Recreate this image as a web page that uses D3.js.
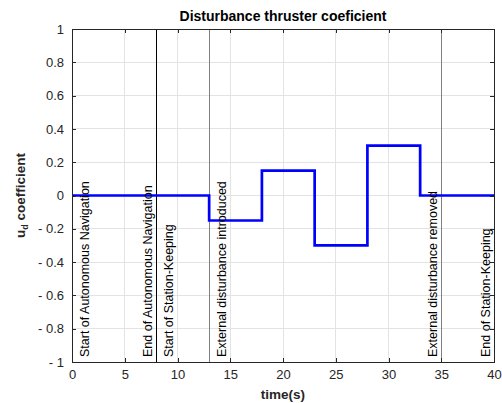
<!DOCTYPE html>
<html><head><meta charset="utf-8">
<script src="https://cdn.jsdelivr.net/npm/d3@7"></script>
<style>body{margin:0;background:#fff;} svg{display:block;font-family:"Liberation Sans",Arial,sans-serif;}</style>
</head><body>
<svg id="c" width="502" height="403"></svg>
<script>
// Data
const stepTimes = [0, 13, 18, 23, 28, 33, 40];
const stepValues = [0, -0.15, 0.15, -0.3, 0.3, 0, 0];
const xTicks = [0, 5, 10, 15, 20, 25, 30, 35, 40];
const yTicks = [-1, -0.8, -0.6, -0.4, -0.2, 0, 0.2, 0.4, 0.6, 0.8, 1];
const eventTimes = [0, 8, 8, 13, 35, 40];
const eventLabels = ["Start of Autonomous Navigation", "End of Autonomous Navigation", "Start of Station-Keeping", "External disturbance introduced", "External disturbance removed", "End of Station-Keeping"];
const eventSides = ["right", "left", "right", "right", "left", "left"];
const eventColors = ["#000", "#000", "#000", "#808080", "#808080", "#000"];

const W = 502, H = 403;
const m = {left: 72, right: 8, top: 29, bottom: 41};
const svg = d3.select("#c");
const x = d3.scaleLinear().domain([0, 40]).range([m.left, W - m.right]);
const y = d3.scaleLinear().domain([-1, 1]).range([H - m.bottom, m.top]);
const fmt = v => v < 0 ? "- " + d3.format("")(Math.abs(+v.toFixed(1))) : d3.format("")(+v.toFixed(1));

// grid
const g = svg.append("g");
g.selectAll(".gx").data(xTicks).join("line")
  .attr("x1", d => x(d)).attr("x2", d => x(d)).attr("y1", y(-1)).attr("y2", y(1))
  .attr("stroke", "#e3e3e3").attr("stroke-width", 1).attr("shape-rendering", "crispEdges");
g.selectAll(".gy").data(yTicks).join("line")
  .attr("y1", d => y(d)).attr("y2", d => y(d)).attr("x1", x(0)).attr("x2", x(40))
  .attr("stroke", "#e3e3e3").attr("stroke-width", 1).attr("shape-rendering", "crispEdges");

// event lines
svg.append("g").selectAll("line").data(eventTimes).join("line")
  .attr("x1", d => x(d)).attr("x2", d => x(d)).attr("y1", y(-1)).attr("y2", y(1))
  .attr("stroke", (d, i) => eventColors[i]).attr("stroke-width", 1).attr("shape-rendering", "crispEdges");

// step line
const pts = stepTimes.map((t, i) => [t, stepValues[i]]);
svg.append("path").datum(pts)
  .attr("d", d3.line().x(d => x(d[0])).y(d => y(d[1])).curve(d3.curveStepAfter))
  .attr("fill", "none").attr("stroke", "#0000ff").attr("stroke-width", 2.7);

// axes
const axColor = "#262626";
const axB = svg.append("g").attr("transform", `translate(0,${y(-1)})`)
  .call(d3.axisBottom(x).tickValues(xTicks).tickSize(-4).tickPadding(8).tickFormat(d3.format("")));
const axT = svg.append("g").attr("transform", `translate(0,${y(1)})`)
  .call(d3.axisTop(x).tickValues(xTicks).tickSize(-4).tickFormat(""));
const axL = svg.append("g").attr("transform", `translate(${x(0)},0)`)
  .call(d3.axisLeft(y).tickValues(yTicks).tickSize(-4).tickPadding(8).tickFormat(fmt));
const axR = svg.append("g").attr("transform", `translate(${x(40)},0)`)
  .call(d3.axisRight(y).tickValues(yTicks).tickSize(-4).tickFormat(""));
[axB, axT, axL, axR].forEach(a => {
  a.select(".domain").attr("stroke", axColor).attr("shape-rendering", "crispEdges");
  a.selectAll(".tick line").attr("stroke", axColor).attr("shape-rendering", "crispEdges");
  a.selectAll("text").attr("fill", axColor).attr("font-size", 13).attr("font-family", '"Liberation Sans",Arial,sans-serif');
});
axB.selectAll("text").attr("dy", "0.71em");

// event labels
svg.append("g").selectAll("text").data(eventTimes).join("text")
  .attr("transform", (d, i) => `translate(${x(d) + (eventSides[i] === "right" ? 16.5 : -4.5)},${y(-1) - 5}) rotate(-90)`)
  .attr("font-size", 12.5).attr("fill", "#000")
  .text((d, i) => eventLabels[i]);

// title
svg.append("text").attr("x", (x(0) + x(40)) / 2).attr("y", 21).attr("text-anchor", "middle")
  .attr("font-weight", "bold").attr("font-size", 14).attr("fill", "#000")
  .text("Disturbance thruster coeficient");

// x label
svg.append("text").attr("x", (x(0) + x(40)) / 2).attr("y", 399).attr("text-anchor", "middle")
  .attr("font-weight", "bold").attr("font-size", 13.5).attr("fill", "#262626")
  .text("time(s)");

// y label
const yl = svg.append("text").attr("transform", `translate(25,${(y(-1) + y(1)) / 2}) rotate(-90)`)
  .attr("text-anchor", "middle").attr("font-weight", "bold").attr("font-size", 13.5).attr("fill", "#262626");
yl.append("tspan").text("u");
yl.append("tspan").attr("font-size", 9).attr("dy", 3).text("d");
yl.append("tspan").attr("dy", -3).text(" coefficient");
</script>
</body></html>
